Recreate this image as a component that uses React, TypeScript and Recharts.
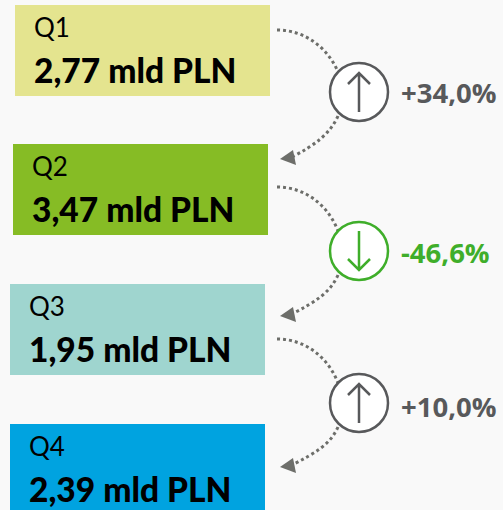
import { Bar, BarChart, Customized, XAxis, YAxis } from "recharts";

const quarters = ["Q1", "Q2", "Q3", "Q4"];
const amounts = [2.77, 3.47, 1.95, 2.39];
const changes = [34.0, -46.6, 10.0];

const boxColors = ["#e4e48f", "#86bc25", "#9fd5cf", "#00a3e0"];
// the boxes are equal in the picture, only nudged sideways
const boxOffsets = [5, 3, 0, 0];
const rows = quarters.map((name, i) => ({ name, amount: amounts[i], box: 1 }));

const connectors = [
  { start: 30, cy: 92, tip: 159, labelY: 103 },
  { start: 187, cy: 251, tip: 316, labelY: 263 },
  { start: 339, cy: 403, tip: 467, labelY: 417 },
];

const labelFont = "Lato, Carlito, sans-serif";
const pctFont = "'Open Sans', sans-serif";

const fmt = (v: number, digits: number) => v.toFixed(digits).replace(".", ",");
const fmtChange = (v: number) => (v > 0 ? "+" : "") + fmt(v, 1) + "%";

function QuarterBox(props: any) {
  const { x, y, width, height, index, payload } = props;
  const left = x + boxOffsets[index];
  const top = Math.floor(y);
  return (
    <g>
      <rect x={left} y={top} width={width} height={height} fill={boxColors[index]} />
      <text x={left + 19} y={top + 32} fontFamily={labelFont} fontSize={26} fill="#000">
        {payload.name}
      </text>
      <text x={left + 19} y={top + 78} fontFamily={labelFont} fontSize={33.5} fontWeight={900} fill="#000">
        {fmt(payload.amount, 2)} mld PLN
      </text>
    </g>
  );
}

function Connectors() {
  return (
    <g>
      {connectors.map((c, i) => {
        const up = changes[i] > 0;
        const color = up ? "#58595b" : "#3fae2a";
        const cx = 359;
        const dir = up ? -1 : 1;
        return (
          <g key={i}>
            <path
              d={`M277 ${c.start} C 305 ${c.start}, 328 ${c.start + 18}, 338 ${c.cy - 20}`}
              fill="none"
              stroke="#6d6e6a"
              strokeWidth={3}
              strokeDasharray="3 3"
            />
            <path
              d={`M338 ${c.cy + 24} C 330 ${c.cy + 42}, 315 ${c.tip - 14}, 292 ${c.tip - 2}`}
              fill="none"
              stroke="#6d6e6a"
              strokeWidth={3}
              strokeDasharray="3 3"
            />
            <path d={`M280 ${c.tip} L293 ${c.tip - 9} L296 ${c.tip + 6} Z`} fill="#6d6e6a" />
            <circle cx={cx} cy={c.cy} r={29} fill="#fff" stroke={color} strokeWidth={2.5} />
            <path
              d={`M${cx} ${c.cy - dir * 20} V${c.cy + dir * 19} M${cx - 11} ${c.cy + dir * 8} L${cx} ${c.cy + dir * 19} L${cx + 11} ${c.cy + dir * 8}`}
              fill="none"
              stroke={color}
              strokeWidth={2.5}
            />
            <text x={401} y={c.labelY} fontFamily={pctFont} fontSize={27.5} fontWeight={700} fill={color}>
              {fmtChange(changes[i])}
            </text>
          </g>
        );
      })}
    </g>
  );
}

export default function App() {
  return (
    <div style={{ position: "fixed", left: 0, top: 0, width: 503, height: 510, background: "#f9f9f9", overflow: "hidden" }}>
      <BarChart
        width={503}
        height={510}
        data={rows}
        layout="vertical"
        margin={{ top: -18.7, right: 238, bottom: -29.97, left: 10 }}
        barSize={91}
      >
        <XAxis type="number" domain={[0, 1]} hide />
        <YAxis type="category" dataKey="name" hide />
        <Bar dataKey="box" shape={QuarterBox} isAnimationActive={false} />
        <Customized component={Connectors} />
      </BarChart>
    </div>
  );
}
